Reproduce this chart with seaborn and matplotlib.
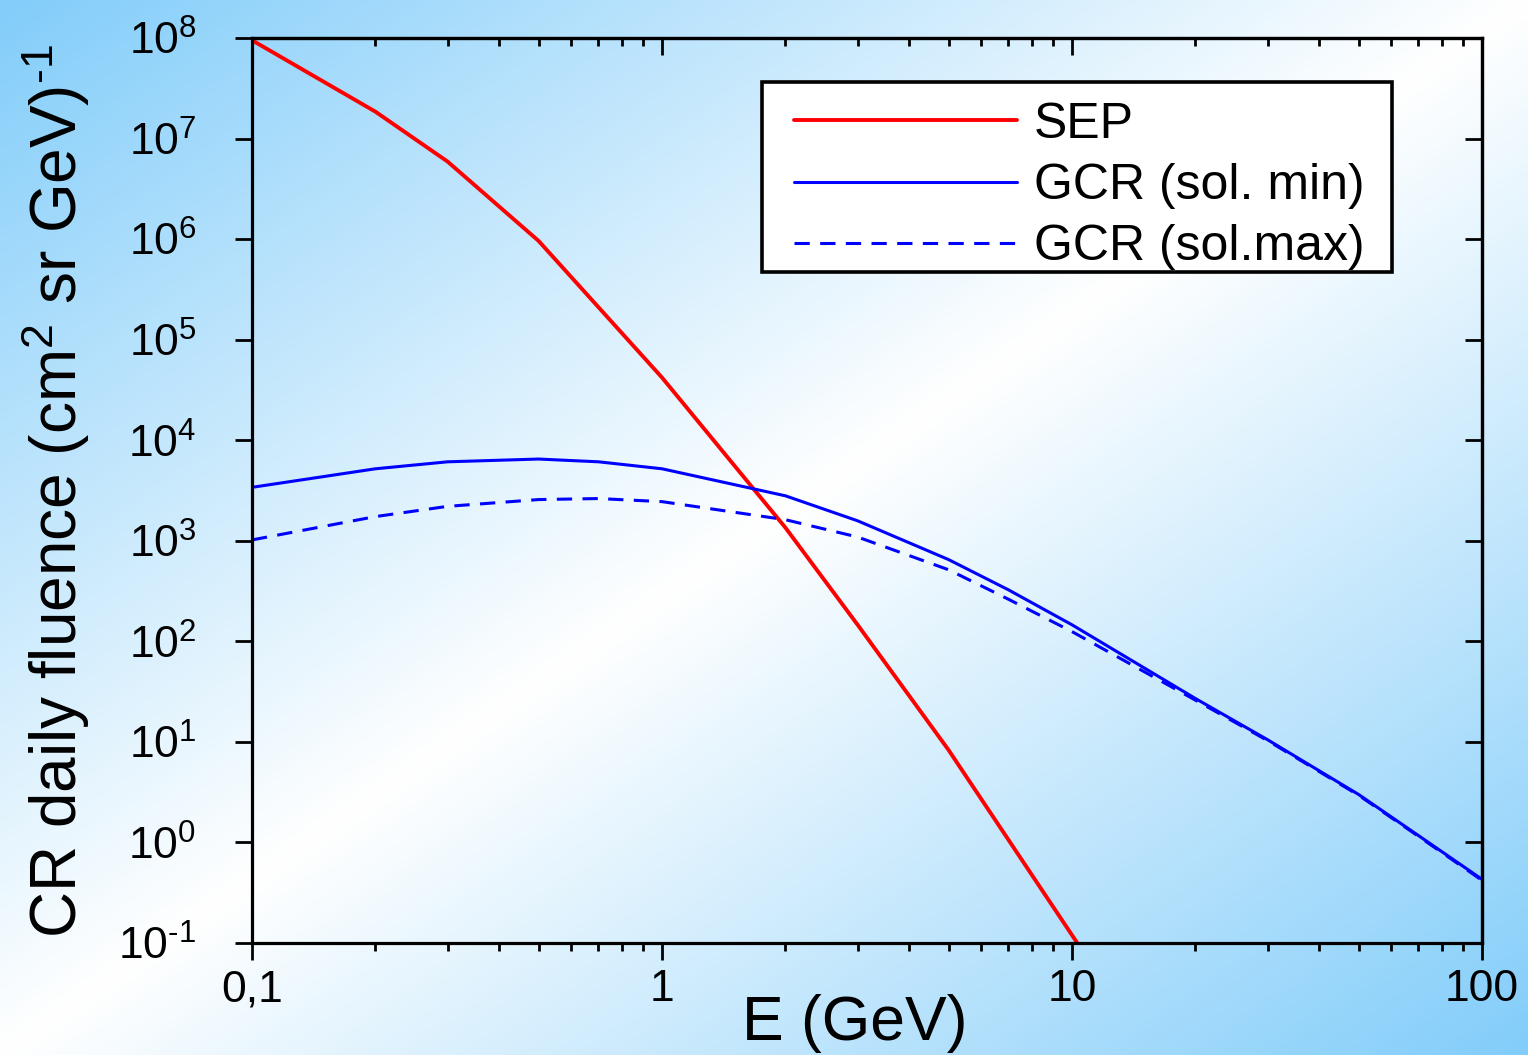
import numpy as np
import pandas as pd
import matplotlib
matplotlib.use("Agg")
import matplotlib.pyplot as plt
import matplotlib.ticker as mticker
from matplotlib.patches import Rectangle
import seaborn as sns

# ---- data ----
E_sep = [0.1, 0.2, 0.3, 0.5, 1, 2, 3, 5, 10.3]
sep = [9.5e7, 1.85e7, 5.9e6, 9.6e5, 4.2e4, 1.35e3, 146, 8.3, 0.1]

E_gcr = [0.1, 0.2, 0.3, 0.5, 0.7, 1, 2, 3, 5, 7, 10, 20, 30, 50, 70, 100]
gcr_min = [3400, 5200, 6100, 6500, 6100, 5200, 2800, 1580, 650, 325, 146, 27, 10.5, 3.0, 1.17, 0.43]
gcr_max = [1020, 1740, 2200, 2570, 2630, 2450, 1620, 1090, 515, 262, 125, 26, 10.3, 2.95, 1.15, 0.42]

series_labels = ["SEP", "GCR (sol. min)", "GCR (sol.max)"]
x_ticks = [0.1, 1, 10, 100]
x_ticklabels = ["0,1", "1", "10", "100"]
y_exponents = [-1, 0, 1, 2, 3, 4, 5, 6, 7, 8]


def exp_label(e):
    s = str(e).replace("-", r"\text{-}")
    return r"$10^{%s}$" % s


sns.set_style("ticks")
plt.rcParams["font.family"] = ["Liberation Sans", "DejaVu Sans"]
plt.rcParams["mathtext.fontset"] = "custom"
plt.rcParams["mathtext.rm"] = "Liberation Sans"
plt.rcParams["mathtext.it"] = "Liberation Sans"
plt.rcParams["mathtext.default"] = "regular"
plt.rcParams["text.color"] = "black"
plt.rcParams["axes.labelcolor"] = "black"
plt.rcParams["xtick.color"] = "black"
plt.rcParams["ytick.color"] = "black"

W, H = 1528, 1055
fig = plt.figure(figsize=(W / 100, H / 100), dpi=100)
fig.patch.set_facecolor("white")

# background gradient
bg = fig.add_axes([0, 0, 1, 1], zorder=0)
gx = np.linspace(0, 1, 400)
gy = np.linspace(0, 1, 300)
XX, YY = np.meshgrid(gx, gy)
d = np.clip(np.abs(XX + YY - 1.0), 0, 1)
blue = np.array([130, 205, 250]) / 255.0
white = np.array([1.0, 1.0, 1.0])
img = white[None, None, :] * (1 - d[..., None]) + blue[None, None, :] * d[..., None]
bg.imshow(img, aspect="auto", extent=[0, 1, 0, 1], origin="upper", interpolation="bilinear")
bg.set_axis_off()

ax = fig.add_axes([252 / W, 1 - 943 / H, (1482 - 252) / W, (943 - 38) / H], zorder=2)
ax.patch.set_alpha(0)

df_sep = pd.DataFrame({"E": E_sep, "F": sep})
df_gcr = pd.DataFrame({"E": E_gcr, "min": gcr_min, "max": gcr_max})

sns.lineplot(data=df_sep, x="E", y="F", ax=ax, color="#ff0000", lw=2.8,
             label=series_labels[0], sort=False, estimator=None)
sns.lineplot(data=df_gcr, x="E", y="min", ax=ax, color="#0000ff", lw=2.2,
             label=series_labels[1], sort=False, estimator=None)
sns.lineplot(data=df_gcr, x="E", y="max", ax=ax, color="#0000ff", lw=2.2,
             label=series_labels[2], sort=False, estimator=None)
ax.lines[2].set_dashes((5, 3.4))

ax.set_xscale("log")
ax.set_yscale("log")
ax.set_xlim(0.1, 100)
ax.set_ylim(0.1, 1e8)

ax.xaxis.set_major_locator(mticker.FixedLocator(x_ticks))
ax.xaxis.set_major_formatter(mticker.FixedFormatter(x_ticklabels))
ax.xaxis.set_minor_locator(mticker.LogLocator(base=10, subs=np.arange(2, 10), numticks=20))
ax.xaxis.set_minor_formatter(mticker.NullFormatter())
ax.yaxis.set_major_locator(mticker.FixedLocator([10.0 ** e for e in y_exponents]))
ax.yaxis.set_major_formatter(mticker.FixedFormatter([exp_label(e) for e in y_exponents]))
ax.yaxis.set_minor_locator(mticker.NullLocator())

for s in ax.spines.values():
    s.set_linewidth(2.3)
    s.set_color("black")
    s.set_visible(True)

ax.tick_params(axis="both", which="major", direction="out", length=12, width=2,
               labelsize=32, colors="black", labelcolor="black")
ax.tick_params(axis="x", which="major", pad=7)
ax.tick_params(axis="y", which="major", pad=28)
ax.tick_params(axis="x", which="minor", direction="out", length=6, width=2)
ax.tick_params(top=False, right=False)

# inward ticks on top and right
secx = ax.secondary_xaxis("top")
secx.xaxis.set_major_locator(mticker.FixedLocator(x_ticks))
secx.xaxis.set_minor_locator(mticker.LogLocator(base=10, subs=np.arange(2, 10), numticks=20))
secx.xaxis.set_major_formatter(mticker.NullFormatter())
secx.xaxis.set_minor_formatter(mticker.NullFormatter())
secx.tick_params(which="major", direction="in", length=12, width=2, colors="black")
secx.tick_params(which="minor", direction="in", length=6, width=2, colors="black")
secx.spines["top"].set_linewidth(2.3)
secx.spines["top"].set_color("black")

secy = ax.secondary_yaxis("right")
secy.yaxis.set_major_locator(mticker.FixedLocator([10.0 ** e for e in y_exponents]))
secy.yaxis.set_minor_locator(mticker.NullLocator())
secy.yaxis.set_major_formatter(mticker.NullFormatter())
secy.tick_params(which="major", direction="in", length=12, width=2, colors="black")
secy.spines["right"].set_linewidth(2.3)
secy.spines["right"].set_color("black")

# axis labels
ax.set_xlabel("E (GeV)", fontsize=45, color="black")
ax.xaxis.set_label_coords(0.49, -0.107)
ax.xaxis.label.set_verticalalignment("baseline")

ax.set_ylabel(r"CR daily fluence (cm$^{2}$ sr GeV)$^{\text{-}1}$", fontsize=46, color="black")
ax.yaxis.label.set_rotation_mode("anchor")
ax.yaxis.label.set_verticalalignment("baseline")
ax.yaxis.label.set_horizontalalignment("center")
ax.yaxis.set_label_coords((77 - 252) / 1230, (943 - 491) / 905)

# legend box + legend content
x0, x1 = (762 - 252) / 1230, (1392 - 252) / 1230
y0, y1 = (943 - 272) / 905, (943 - 82) / 905
ax.add_patch(Rectangle((x0, y0), x1 - x0, y1 - y0, transform=ax.transAxes,
                       facecolor="white", edgecolor="black", lw=2.6, zorder=4))
leg = ax.legend(loc="center", bbox_to_anchor=((1079.5 - 252) / 1230, (943 - 186) / 905),
                fontsize=36, frameon=False,
                handlelength=4.46, handletextpad=0.34, labelspacing=0.31,
                borderpad=0, borderaxespad=0)
leg.set_zorder(5)
for t in leg.get_texts():
    t.set_color("black")

fig.savefig("out.png", dpi=100)
